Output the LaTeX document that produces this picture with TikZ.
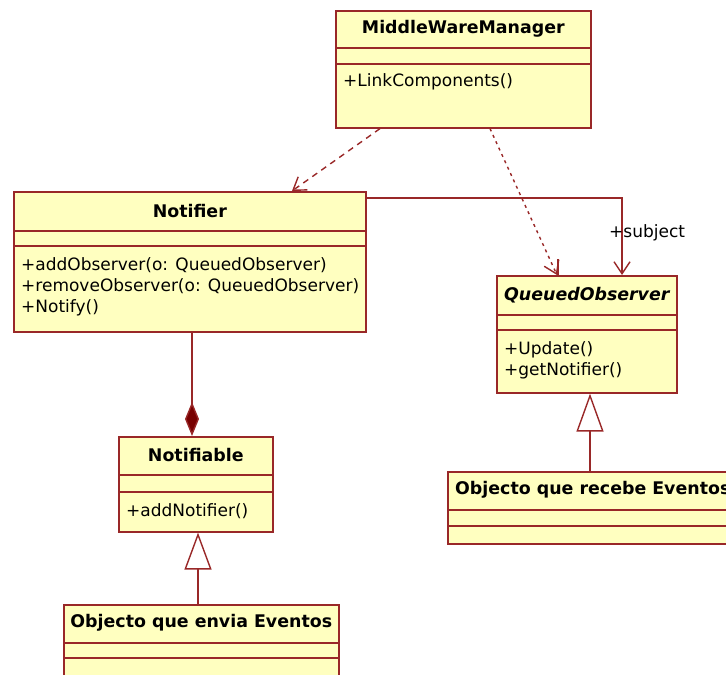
\documentclass[tikz,border=0pt]{standalone}
\usepackage{fontspec}
\setmainfont{DejaVu Sans}
\usetikzlibrary{arrows.meta,positioning}
\definecolor{umlred}{RGB}{153,40,40}
\definecolor{umlfill}{RGB}{255,255,192}
\definecolor{umldark}{RGB}{120,0,0}

\begin{document}
\begin{tikzpicture}[x=1pt, y=-1pt,
    classbox/.style={draw=umlred, fill=umlfill, line width=1.6pt, inner sep=0pt, anchor=north west},
    sep/.style={draw=umlred, line width=1.4pt},
    title/.style={font=\fontsize{17.4}{21}\selectfont\bfseries, inner sep=0pt},
    ops/.style={font=\fontsize{17}{21}\selectfont, align=left, inner sep=0pt},
    link/.style={draw=umlred, line width=1.4pt},
    openarrow/.style={-{Straight Barb[length=12pt, width=16pt]}}]
    \useasboundingbox (0,0) rectangle (726,675);

    % MiddleWareManager
    \node[classbox, minimum width=255pt, minimum height=117pt] (mwm) at (335,10) {};
    \draw[sep] (mwm.west |- 0,48) -- (mwm.east |- 0,48);
    \draw[sep] (mwm.west |- 0,64) -- (mwm.east |- 0,64);
    \node[title] (mwmname) at (mwm.north |- 0,29) {MiddleWareManager};
    \node[ops, anchor=west] (mwmops) at (343,82) {+LinkComponents()};

    % Notifier
    \node[classbox, minimum width=352pt, minimum height=140pt] (notifier) at (13,191) {};
    \draw[sep] (notifier.west |- 0,231) -- (notifier.east |- 0,231);
    \draw[sep] (notifier.west |- 0,246) -- (notifier.east |- 0,246);
    \node[title] (notifiername) at (notifier.north |- 0,211) {Notifier};
    \node[ops, anchor=west] (notifierops) at (21,287)
        {+addObserver(o: QueuedObserver)\\+removeObserver(o: QueuedObserver)\\+Notify()};

    % QueuedObserver (abstract)
    \node[classbox, minimum width=180pt, minimum height=117pt] (queued) at (496,275) {};
    \draw[sep] (queued.west |- 0,315) -- (queued.east |- 0,315);
    \draw[sep] (queued.west |- 0,330) -- (queued.east |- 0,330);
    \node[title, font=\fontsize{17.4}{21}\selectfont\bfseries\itshape] (queuedname) at (queued.north |- 0,295) {QueuedObserver};
    \node[ops, anchor=west] (queuedops) at (504,360) {+Update()\\+getNotifier()};

    % Notifiable
    \node[classbox, minimum width=154pt, minimum height=95pt] (notifiable) at (118,436) {};
    \draw[sep] (notifiable.west |- 0,475) -- (notifiable.east |- 0,475);
    \draw[sep] (notifiable.west |- 0,492) -- (notifiable.east |- 0,492);
    \node[title] (notifiablename) at (notifiable.north |- 0,455) {Notifiable};
    \node[ops, anchor=west] (notifiableops) at (126,511) {+addNotifier()};

    % Objecto que recebe Eventos
    \node[classbox, minimum width=300pt, minimum height=72pt] (recebe) at (447,471) {};
    \draw[sep] (recebe.west |- 0,510) -- (recebe.east |- 0,510);
    \draw[sep] (recebe.west |- 0,526) -- (recebe.east |- 0,526);
    \node[title, anchor=west] (recebename) at (455,490) {Objecto que recebe Eventos};

    % Objecto que envia Eventos
    \node[classbox, minimum width=275pt, minimum height=100pt] (envia) at (63,604) {};
    \draw[sep] (envia.west |- 0,643) -- (envia.east |- 0,643);
    \draw[sep] (envia.west |- 0,658) -- (envia.east |- 0,658);
    \node[title] (invianame) at (envia.north |- 0,623) {Objecto que envia Eventos};

    % Dependencies
    \draw[link, openarrow, dash pattern=on 6pt off 5pt] (mwm.south -| 380,0) -- (notifier.north -| 292,0);
    \draw[link, openarrow, dash pattern=on 3pt off 4pt] (mwm.south -| 490,0) -- (queued.north -| 557,0);
    \draw[link] (queued.north -| 558,0) -- (558,259);

    % Association
    \draw[link, openarrow] (notifier.east |- 0,198) -| (queued.north -| 622,0);
    \node[ops, anchor=west] (subject) at (609,233) {+subject};

    % Composition
    \draw[link, -{Diamond[length=34pt, width=14pt, fill=umldark]}] (notifier.south -| 192,0) -- (notifiable.north -| 192,0);

    % Generalizations
    \draw[link, -{Triangle[length=37pt, width=27pt, fill=white]}] (envia.north -| 198,0) -- (notifiable.south -| 198,0);
    \draw[link, -{Triangle[length=38pt, width=27pt, fill=white]}] (recebe.north -| 590,0) -- (queued.south -| 590,0);
\end{tikzpicture}
\end{document}
